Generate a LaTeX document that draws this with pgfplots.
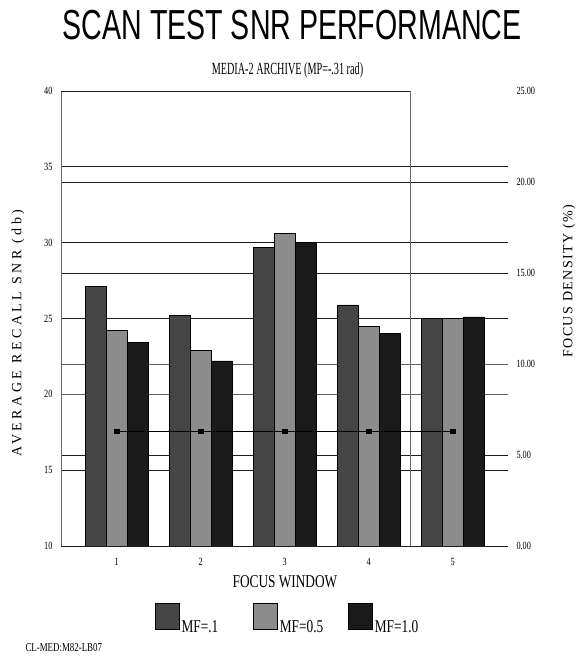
\documentclass[border=0pt]{standalone}
\usepackage{fontspec}
\setmainfont{Liberation Serif}
\newfontfamily\titlefont[FakeStretch=0.68]{Liberation Sans}
\newfontfamily\subfont[FakeStretch=0.6]{Liberation Serif}
\newfontfamily\narrowfont[FakeStretch=0.74]{Liberation Serif}
\newfontfamily\tickfont[FakeStretch=0.75]{Liberation Serif}
\newfontfamily\labelfont[LetterSpace=25]{Liberation Serif}
\newfontfamily\rlabelfont[LetterSpace=10]{Liberation Serif}
\usepackage{pgfplots}
\pgfplotsset{compat=1.18}
\definecolor{cA}{HTML}{454545}
\definecolor{cB}{HTML}{8C8C8C}
\definecolor{cC}{HTML}{1A1A1A}
\definecolor{gridc}{HTML}{1E1E1E}
\definecolor{framec}{HTML}{666666}
\pgfplotsset{
  base/.style={
    at={(61pt,-546pt)}, anchor=south west,
    scale only axis, width=447pt, height=455pt,
    xmin=0.337, xmax=5.657,
    axis line style={draw=none},
    major tick length=0pt,
    /pgf/number format/assume math mode=true,
  }
}
\begin{document}
\begin{tikzpicture}
% grid and frame
\begin{axis}[base, ymin=10, ymax=40, clip=false, xtick=\empty, ytick=\empty]
\draw[gridc, line width=0.8pt] (axis cs:0.337,15) -- (axis cs:5.657,15);
\draw[gridc, line width=0.8pt] (axis cs:0.337,16) -- (axis cs:5.657,16);
\draw[gridc!70!white, line width=0.8pt] (axis cs:0.337,20) -- (axis cs:5.657,20);
\draw[gridc!70!white, line width=0.8pt] (axis cs:0.337,22) -- (axis cs:5.657,22);
\draw[gridc, line width=0.8pt] (axis cs:0.337,25) -- (axis cs:5.657,25);
\draw[gridc, line width=0.8pt] (axis cs:0.337,28) -- (axis cs:5.657,28);
\draw[gridc, line width=0.8pt] (axis cs:0.337,30) -- (axis cs:5.657,30);
\draw[gridc, line width=0.8pt] (axis cs:0.337,34) -- (axis cs:5.657,34);
\draw[gridc, line width=0.8pt] (axis cs:0.337,35) -- (axis cs:5.657,35);
\draw[framec, line width=0.8pt] (axis cs:0.337,10) -- (axis cs:0.337,40);
\draw[gridc, line width=0.8pt] (axis cs:0.337,40) -- (axis cs:4.49,40);
\draw[framec, line width=0.8pt] (axis cs:4.49,10) -- (axis cs:4.49,40);
\end{axis}
% bars
\begin{axis}[base, ymin=10, ymax=40,
  xtick={1,2,3,4,5}, ytick={10,15,20,25,30,35,40},
  tick label style={font=\tickfont\fontsize{11}{13}\selectfont},
  yticklabel style={xshift=-5pt},
  xticklabel style={yshift=-9pt},
  ybar=0pt, bar width=21pt,
  title={SCAN TEST SNR PERFORMANCE},
  title style={at={(axis description cs:0.517,1.099)}, anchor=base, font=\titlefont\fontsize{42}{42}\selectfont},
  xlabel={FOCUS WINDOW},
  xlabel style={at={(axis description cs:0.501,-0.079)}, anchor=center, font=\narrowfont\fontsize{18}{18}\selectfont},
  ylabel={AVERAGE RECALL SNR (db)},
  ylabel style={at={(axis description cs:-0.096,0.468)}, anchor=center, font=\labelfont\fontsize{14}{14}\selectfont},
  legend columns=3,
  legend style={at={(axis description cs:0.507,-0.161)}, anchor=center, draw=none, fill=none,
    font=\narrowfont\fontsize{18}{18}\selectfont,
    /tikz/column 2/.style={column sep=33pt},
    /tikz/column 4/.style={column sep=23pt}},
  legend image code/.code={\draw[#1] (0pt,-2pt) rectangle (24pt,24pt);},
]
\addplot[fill=cA, draw=black, line width=0.6pt] coordinates {(1,27.1) (2,25.2) (3,29.7) (4,25.9) (5,25.0)};
\addplot[fill=cB, draw=black, line width=0.6pt] coordinates {(1,24.2) (2,22.9) (3,30.6) (4,24.5) (5,25.0)};
\addplot[fill=cC, draw=black, line width=0.6pt] coordinates {(1,23.4) (2,22.2) (3,30.0) (4,24.0) (5,25.1)};
\legend{MF=.1, MF=0.5, MF=1.0}
\end{axis}
% bottom line, right axis, line series
\begin{axis}[base, ymin=0, ymax=25, clip=false,
  hide x axis,
  yticklabel pos=right,
  ytick={0,5,10,15,20,25},
  yticklabel style={/pgf/number format/.cd, fixed, fixed zerofill, precision=2, /tikz/.cd, xshift=5pt, font=\tickfont\fontsize{11}{13}\selectfont},
  title={MEDIA-2 ARCHIVE (MP=-.31 rad)},
  title style={at={(axis description cs:0.5067,1.024)}, anchor=base, font=\subfont\fontsize{17}{17}\selectfont},
  ylabel={FOCUS DENSITY (\%)},
  ylabel style={at={(axis description cs:1.1365,0.582)}, anchor=center, rotate=0, font=\rlabelfont\fontsize{14}{14}\selectfont},
]
\draw[gridc, line width=1pt] (axis cs:0.337,0) -- (axis cs:5.657,0);
\addplot[black, line width=0.8pt, mark=square*, mark size=2.3pt] coordinates {(1,6.3) (2,6.3) (3,6.3) (4,6.3) (5,6.3)};
\end{axis}
\node[anchor=base west, font=\narrowfont\fontsize{12}{12}\selectfont] at (22pt,-651pt) {CL-MED:M82-LB07};
\path (0pt,0pt) rectangle (585pt,-659pt);
\end{tikzpicture}
\end{document}
